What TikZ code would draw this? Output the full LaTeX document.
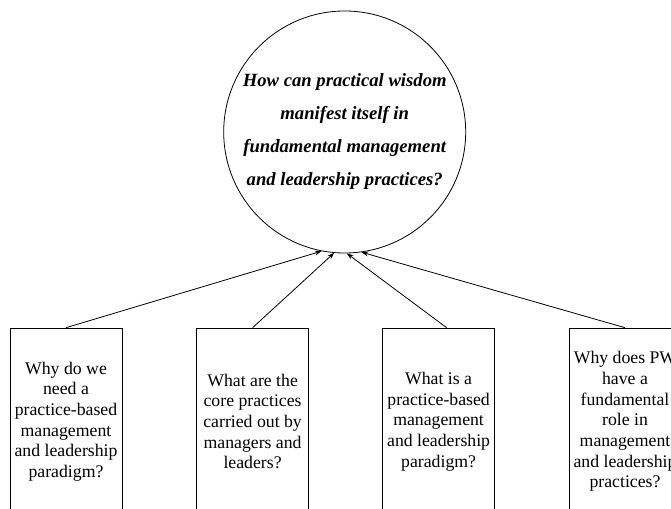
\documentclass[tikz,border=0pt]{standalone}
\usepackage{fontspec}
\setmainfont{Liberation Serif}
\usetikzlibrary{arrows.meta}

\begin{document}
\begin{tikzpicture}[x=0.75pt, y=-0.75pt]
	\useasboundingbox (0,0) rectangle (671,509);
	\clip (0,0) rectangle (671,509);
	\node[circle, draw, line width=0.6pt, minimum size=181.5pt, inner sep=0pt, align=center,
		font={\fontsize{14}{24.75}\selectfont\bfseries\itshape}] (Q) at (344.7,132)
		{How can practical wisdom\\ manifest itself in\\ fundamental management\\ and leadership practices?};
	\begin{scope}[every node/.style = {rectangle, draw, line width=0.6pt, anchor=north,
			minimum width=84pt, minimum height=140pt, inner sep=0pt, align=center,
			font={\fontsize{13.3}{15.5}\selectfont}}]
		\node (Q1) at (66,327.7) {Why do we\\ need a\\ practice-based\\ management\\ and leadership\\ paradigm?};
		\node (Q2) at (252.6,327.7) {What are the\\ core practices\\ carried out by\\ managers and\\ leaders?};
		\node (Q3) at (438.6,327.7) {What is a\\ practice-based\\ management\\ and leadership\\ paradigm?};
		\node (Q4) at (625,327.7) {Why does PW\\ have a\\ fundamental\\ role in\\ management\\ and leadership\\ practices?};
	\end{scope}
	\begin{scope}[>={Stealth[black, length=5pt, width=3.6pt]},
			every edge/.style={draw=black, line width=0.6pt}]
		\path [->] (Q1.north) edge (Q.259);
		\path [->] (Q2.north) edge (Q.265.4);
		\path [->] ([xshift=6pt]Q3.north) edge (Q.271.7);
		\path [->] (Q4.north) edge (Q.278.1);
	\end{scope}
\end{tikzpicture}
\end{document}
